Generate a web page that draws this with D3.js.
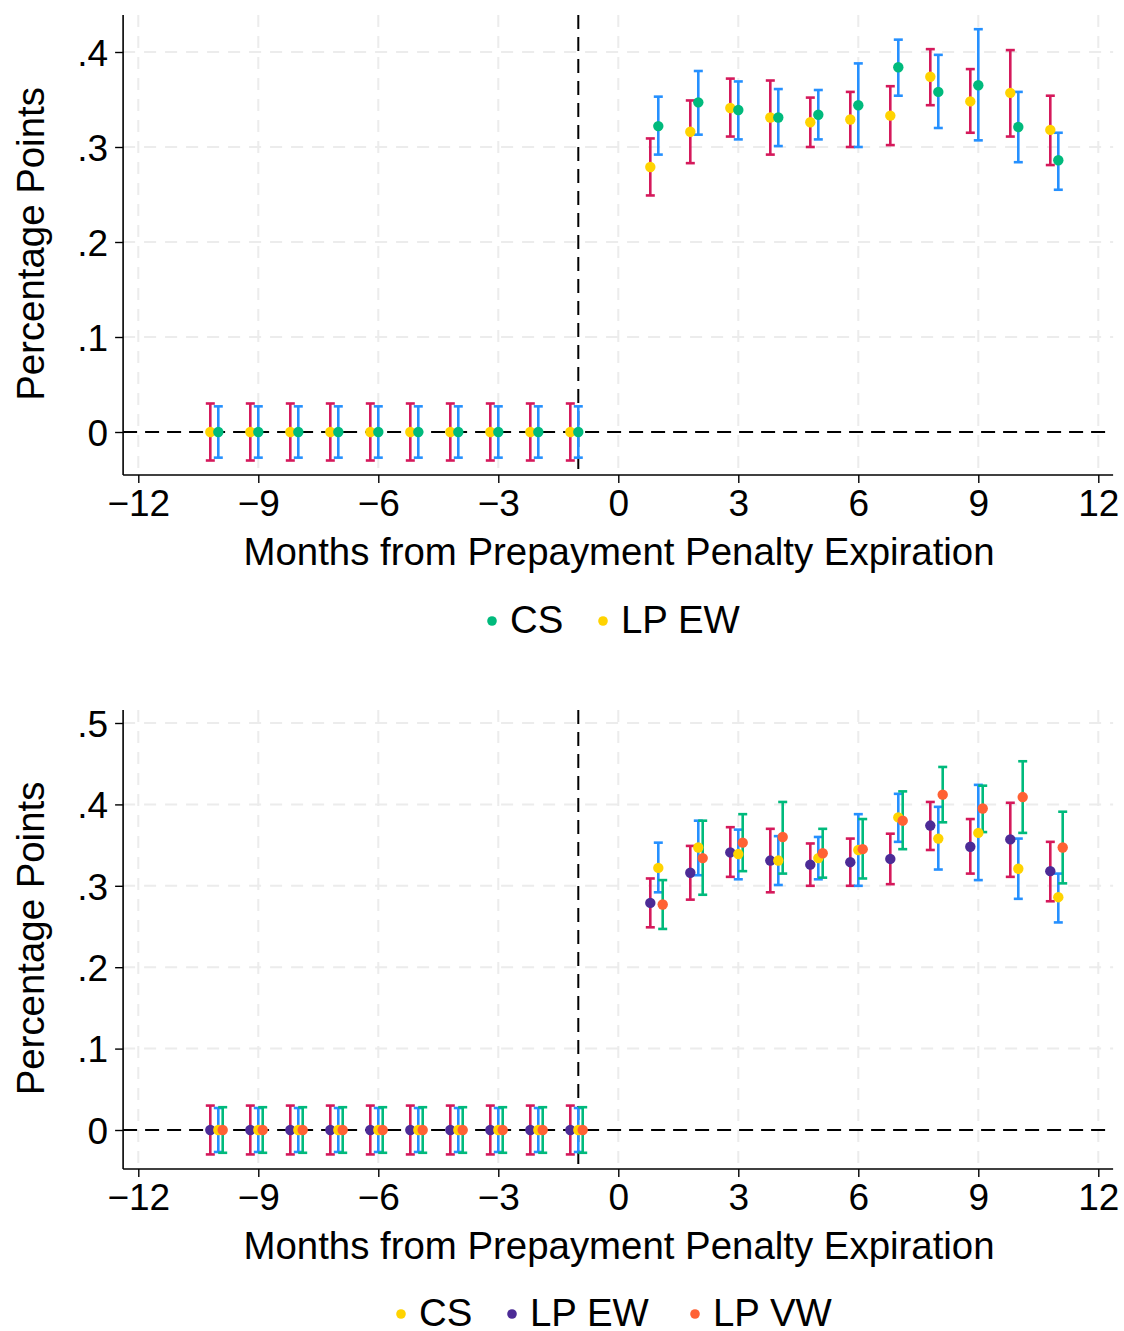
<!DOCTYPE html>
<html>
<head>
<meta charset="utf-8">
<script src="https://cdn.jsdelivr.net/npm/d3@7"></script>
<style>
  body { margin: 0; background: #fff; }
  svg text { font-family: "Liberation Sans", Arial, Helvetica, sans-serif; fill: #000; }
</style>
</head>
<body>
<svg id="chart" width="1124" height="1331"></svg>
<script>
// MONTHS
var preMonths = [-10, -9, -8, -7, -6, -5, -4, -3, -2, -1];
var postMonths = [1, 2, 3, 4, 5, 6, 7, 8, 9, 10, 11];

// CS ESTIMATES (POST PERIOD)
var csEst = [0.322, 0.347, 0.339, 0.331, 0.334, 0.344, 0.384, 0.358, 0.365, 0.321, 0.286];
var csLo  = [0.292, 0.313, 0.308, 0.301, 0.308, 0.300, 0.354, 0.320, 0.307, 0.284, 0.255];
var csHi  = [0.353, 0.380, 0.369, 0.361, 0.360, 0.388, 0.413, 0.397, 0.424, 0.358, 0.315];

// LP EW ESTIMATES (POST PERIOD)
var ewEst = [0.279, 0.316, 0.341, 0.331, 0.326, 0.329, 0.333, 0.374, 0.348, 0.357, 0.318];
var ewLo  = [0.249, 0.283, 0.311, 0.292, 0.300, 0.300, 0.302, 0.344, 0.315, 0.311, 0.281];
var ewHi  = [0.309, 0.349, 0.372, 0.370, 0.352, 0.358, 0.364, 0.403, 0.382, 0.402, 0.354];

// LP VW ESTIMATES (POST PERIOD)
var vwEst = [0.277, 0.334, 0.353, 0.360, 0.340, 0.345, 0.380, 0.412, 0.395, 0.409, 0.347];
var vwLo  = [0.247, 0.289, 0.318, 0.315, 0.310, 0.309, 0.345, 0.378, 0.366, 0.365, 0.303];
var vwHi  = [0.307, 0.380, 0.388, 0.403, 0.370, 0.382, 0.416, 0.446, 0.423, 0.453, 0.391];

// PRE PERIOD HALF WIDTHS OF CONFIDENCE INTERVALS
var csPreHalf = 0.027;
var ewPreHalf = 0.030;
var vwPreHalf = 0.028;

// TICK LABELS
var xTicks = [-12, -9, -6, -3, 0, 3, 6, 9, 12];
var yTicksTop = [0, 0.1, 0.2, 0.3, 0.4];
var yTicksBottom = [0, 0.1, 0.2, 0.3, 0.4, 0.5];

// COLORS
var col = {
   green: '#00BA7C', yellow: '#FFD300', blue: '#2590FF',
   red: '#D5195B', purple: '#4C2B96', orange: '#FF6134'
};

var svg = d3.select('#chart');

// BUILD A SERIES (PRE ZEROS + POST ESTIMATES)
function series(est, lo, hi, preHalf) {
   var rows = preMonths.map(m => ({ m: m, v: 0, lo: -preHalf, hi: preHalf }));
   postMonths.forEach((m, i) => rows.push({ m: m, v: est[i], lo: lo[i], hi: hi[i] }));
   return rows;
}

function yLabel(d) {
   return d === 0 ? '0' : d3.format('.1f')(d).replace(/^0/, '');
}

// DRAW ONE PANEL
function panel(p) {

   var x = d3.scaleLinear().domain([-12, 12]).range([138.3, 1098.3]);
   var y = d3.scaleLinear().domain([0, p.yMax]).range([p.y0, p.yTopTick]);
   var left = x(-12.38), right = x(12.37);

   var g = svg.append('g');

   // GRID
   g.selectAll('line.gx').data(xTicks).enter().append('line')
      .attr('x1', d => x(d)).attr('x2', d => x(d))
      .attr('y1', p.top).attr('y2', p.bottom)
      .attr('stroke', '#ececec').attr('stroke-width', 2).attr('stroke-dasharray', '12,9');
   g.selectAll('line.gy').data(p.yTicks.filter(d => d !== 0)).enter().append('line')
      .attr('x1', left).attr('x2', right)
      .attr('y1', d => y(d)).attr('y2', d => y(d))
      .attr('stroke', '#ececec').attr('stroke-width', 2).attr('stroke-dasharray', '12,9');

   // REFERENCE LINES
   g.append('line')
      .attr('x1', left).attr('x2', right).attr('y1', y(0)).attr('y2', y(0))
      .attr('stroke', '#000').attr('stroke-width', 2).attr('stroke-dasharray', '14,8');
   g.append('line')
      .attr('x1', x(-1)).attr('x2', x(-1)).attr('y1', p.top).attr('y2', p.bottom)
      .attr('stroke', '#000').attr('stroke-width', 2).attr('stroke-dasharray', '14,8');

   // AXES
   var xAxis = d3.axisBottom(x).tickValues(xTicks).tickSize(8).tickPadding(5)
      .tickFormat(d => d < 0 ? '\u2212' + Math.abs(d) : d);
   var ax = g.append('g').attr('transform', 'translate(0,' + p.bottom + ')').call(xAxis);
   ax.select('.domain').attr('d', 'M' + left + ',0H' + right).attr('stroke-width', 1.6);
   ax.selectAll('.tick line').attr('stroke-width', 1.4);
   ax.selectAll('text').attr('font-size', 37).attr('dy', '0.76em');

   var yAxis = d3.axisLeft(y).tickValues(p.yTicks).tickSize(8).tickPadding(7).tickFormat(yLabel);
   var ay = g.append('g').attr('transform', 'translate(' + left + ',0)').call(yAxis);
   ay.select('.domain').attr('d', 'M0,' + p.top + 'V' + p.bottom).attr('stroke-width', 1.6);
   ay.selectAll('.tick line').attr('stroke-width', 1.4);
   ay.selectAll('text').attr('font-size', 37).attr('dy', '0.36em');

   // TITLES
   g.append('text').attr('x', 619).attr('y', p.bottom + 90)
      .attr('text-anchor', 'middle').attr('font-size', 38.4)
      .text('Months from Prepayment Penalty Expiration');
   g.append('text').attr('transform', 'translate(44,' + ((p.top + p.bottom) / 2 - 1) + ') rotate(-90)')
      .attr('text-anchor', 'middle').attr('font-size', 38.4)
      .text('Percentage Points');

   // ERROR BARS AND POINTS
   p.series.forEach(s => {
      var sg = g.append('g');
      var bars = sg.selectAll('g').data(s.data).enter().append('g');
      bars.append('line')
         .attr('x1', d => x(d.m + s.dx)).attr('x2', d => x(d.m + s.dx))
         .attr('y1', d => y(d.lo)).attr('y2', d => y(d.hi))
         .attr('stroke', s.ci).attr('stroke-width', 2.6);
      [ 'lo', 'hi' ].forEach(k => {
         bars.append('line')
            .attr('x1', d => x(d.m + s.dx) - 4.5).attr('x2', d => x(d.m + s.dx) + 4.5)
            .attr('y1', d => y(d[k])).attr('y2', d => y(d[k]))
            .attr('stroke', s.ci).attr('stroke-width', 2.6);
      });
   });
   p.series.forEach(s => {
      g.append('g').selectAll('circle').data(s.data).enter().append('circle')
         .attr('cx', d => x(d.m + s.dx)).attr('cy', d => y(d.v))
         .attr('r', 5.2).attr('fill', s.pt);
   });

   // LEGEND
   var lg = g.append('g');
   var xpos = p.legendX;
   p.legend.forEach((l, i) => {
      lg.append('circle').attr('cx', xpos[i]).attr('cy', p.legendY - 12).attr('r', 4.8).attr('fill', l.c);
      lg.append('text').attr('x', xpos[i] + 18).attr('y', p.legendY).attr('font-size', 38.4).text(l.t);
   });
}

// TOP PANEL: CS VS LP EW
panel({
   top: 15, bottom: 475, y0: 432, yTopTick: 52, yMax: 0.4, yTicks: yTicksTop,
   series: [
      { data: series(ewEst, ewLo, ewHi, ewPreHalf), dx: -0.2, pt: col.yellow, ci: col.red },
      { data: series(csEst, csLo, csHi, csPreHalf), dx: 0, pt: col.green, ci: col.blue }
   ],
   legendY: 633, legendX: [492, 603],
   legend: [ { t: 'CS', c: col.green }, { t: 'LP EW', c: col.yellow } ]
});

// BOTTOM PANEL: CS VS LP EW VS LP VW
panel({
   top: 710, bottom: 1169, y0: 1130, yTopTick: 723, yMax: 0.5, yTicks: yTicksBottom,
   series: [
      { data: series(ewEst, ewLo, ewHi, ewPreHalf), dx: -0.2, pt: col.purple, ci: col.red },
      { data: series(csEst, csLo, csHi, csPreHalf), dx: 0, pt: col.yellow, ci: col.blue },
      { data: series(vwEst, vwLo, vwHi, vwPreHalf), dx: 0.11, pt: col.orange, ci: col.green }
   ],
   legendY: 1326, legendX: [401, 512, 695],
   legend: [ { t: 'CS', c: col.yellow }, { t: 'LP EW', c: col.purple }, { t: 'LP VW', c: col.orange } ]
});
</script>
</body>
</html>
